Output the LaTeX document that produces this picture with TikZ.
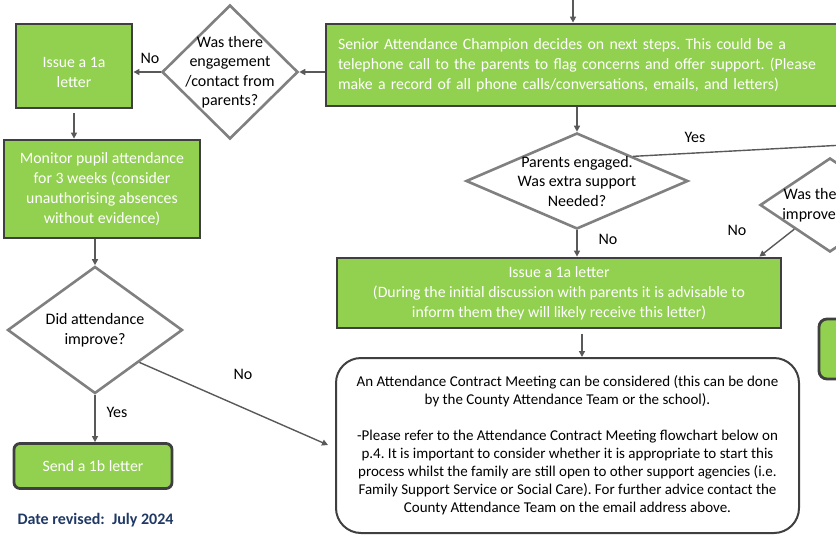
\documentclass[tikz,border=0pt]{standalone}
\usepackage{fontspec}
\setmainfont{Carlito}
\usepackage{tikz}
\usepackage{xcolor}
\usetikzlibrary{shapes.geometric}
\usetikzlibrary{calc}
\usetikzlibrary{positioning, arrows.meta}

\definecolor{boxgreen}{HTML}{92D050}
\definecolor{boxedge}{HTML}{3F3F3F}
\definecolor{diaedge}{HTML}{808080}
\definecolor{flowgrey}{HTML}{595959}
\definecolor{datenavy}{HTML}{1F3864}

\frenchspacing

\begin{document}
\begin{tikzpicture}[x=1pt, y=-1pt, >={Triangle[length=6pt,width=6pt]}, % Arrow tip style
    action/.style={draw=boxedge, line width=2.8pt, fill=boxgreen, text=white, align=center, inner sep=0pt, font=\fontsize{15.8}{20}\selectfont},
    decision/.style={draw=diaedge, line width=2.6pt, fill=white, diamond, aspect=1, inner sep=-40pt, align=center, font=\fontsize{16}{19.5}\selectfont},
    flow/.style={draw=flowgrey, line width=1.4pt, ->},
    tag/.style={font=\fontsize{16}{18}\selectfont}]
                    % Fix the frame of the picture
                    \useasboundingbox (0,0) rectangle (836,536);
                    \clip (0,0) rectangle (836,536);

                    % Define the boxes
                    \node[action, minimum width=574, minimum height=82, text width=550, align=left] (senior) at (613,65) {Senior Attendance Champion decides on next steps. This could be a\\telephone call to the parents to flag concerns and offer support. (Please\\make a record of all phone calls/conversations, emails, and letters)};
                    \node[action, minimum width=116, minimum height=84, text height=43pt] (issueA) at (74,66) {Issue a 1a\\letter};
                    \node[action, minimum width=196, minimum height=98] (monitor) at (102,189) {Monitor pupil attendance\\for 3 weeks (consider\\unauthorising absences\\without evidence)};
                    \node[action, rounded corners=6pt, minimum width=158, minimum height=45] (send) at (93,466) {Send a 1b letter};
                    \node[action, minimum width=444, minimum height=70] (issueB) at (559,293) {Issue a 1a letter\\(During the initial discussion with parents it is advisable to\\inform them they will likely receive this letter)};
                    \node[action, rounded corners=8pt, minimum width=102, minimum height=60] (sideBox) at (870,349) {};
                    \node[draw=boxedge, line width=2pt, fill=white, rounded corners=25pt, minimum width=463, minimum height=175, inner sep=0pt, align=center, font=\fontsize{15}{18}\selectfont] (contract) at (567.5,445.5) {An Attendance Contract Meeting can be considered (this can be done\\by the County Attendance Team or the school).\\[18pt]-Please refer to the Attendance Contract Meeting flowchart below on\\p.4. It is important to consider whether it is appropriate to start this\\process whilst the family are still open to other support agencies (i.e.\\Family Support Service or Social Care). For further advice contact the\\County Attendance Team on the email address above.};

                    % Define the decisions
                    \node[decision, minimum width=136, minimum height=134] (engage) at (230,72) {Was there\\engagement\\/contact from\\parents?};
                    \node[decision, minimum width=175, minimum height=127] (improve) at (95,330) {Did attendance\\improve?};
                    \node[decision, minimum width=222, minimum height=96] (support) at (577,181) {Parents engaged.\\Was extra support\\Needed?};
                    \node[decision, minimum width=140, minimum height=94] (better) at (830,205) {Was there any\\improvement?};

                    % Free ends of connectors
                    \coordinate (topIn) at (573,-5);
                    \coordinate (noEnd) at (328,445);
                    \coordinate (yesEnd) at (900,142);

                    % Draw connectors with arrows
                    \draw[flow] (topIn) -- (topIn |- senior.north);
                    \draw[flow] (engage.east -| senior.west) -- (engage.east);
                    \draw[flow] (engage.west) -- (engage.west -| issueA.east);
                    \draw[flow, shorten <=4pt] (issueA.south) -- (issueA.south |- monitor.north);
                    \draw[flow] (improve.north |- monitor.south) -- (improve.north);
                    \draw[flow] (improve.south) -- (improve.south |- send.north);
                    \draw[flow] (improve.south east) -- (noEnd);
                    \draw[flow] (support.north |- senior.south) -- (support.north);
                    \draw[flow] (support.south) -- (support.south |- issueB.north);
                    \draw[flow, -] (support.north east) -- (yesEnd);
                    \draw[flow] (better.south west) -- ([xshift=-23pt]issueB.north east);
                    \draw[flow, shorten <=5pt] ([xshift=23pt]issueB.south) -- ([xshift=23pt]issueB.south |- contract.north);

                    % Labels on the connectors
                    \node[tag] (noA) at (150,58) {No};
                    \node[tag] (yesA) at (117,412) {Yes};
                    \node[tag] (noB) at (243,374) {No};
                    \node[tag] (yesB) at (695,137) {Yes};
                    \node[tag] (noC) at (608,239) {No};
                    \node[tag] (noD) at (737,230) {No};

                    % Footer
                    \node[anchor=west, text=datenavy, font=\fontsize{16}{18}\selectfont\bfseries] (revised) at (14,520) {Date revised:\ \ July 2024};
                \end{tikzpicture}
\end{document}
